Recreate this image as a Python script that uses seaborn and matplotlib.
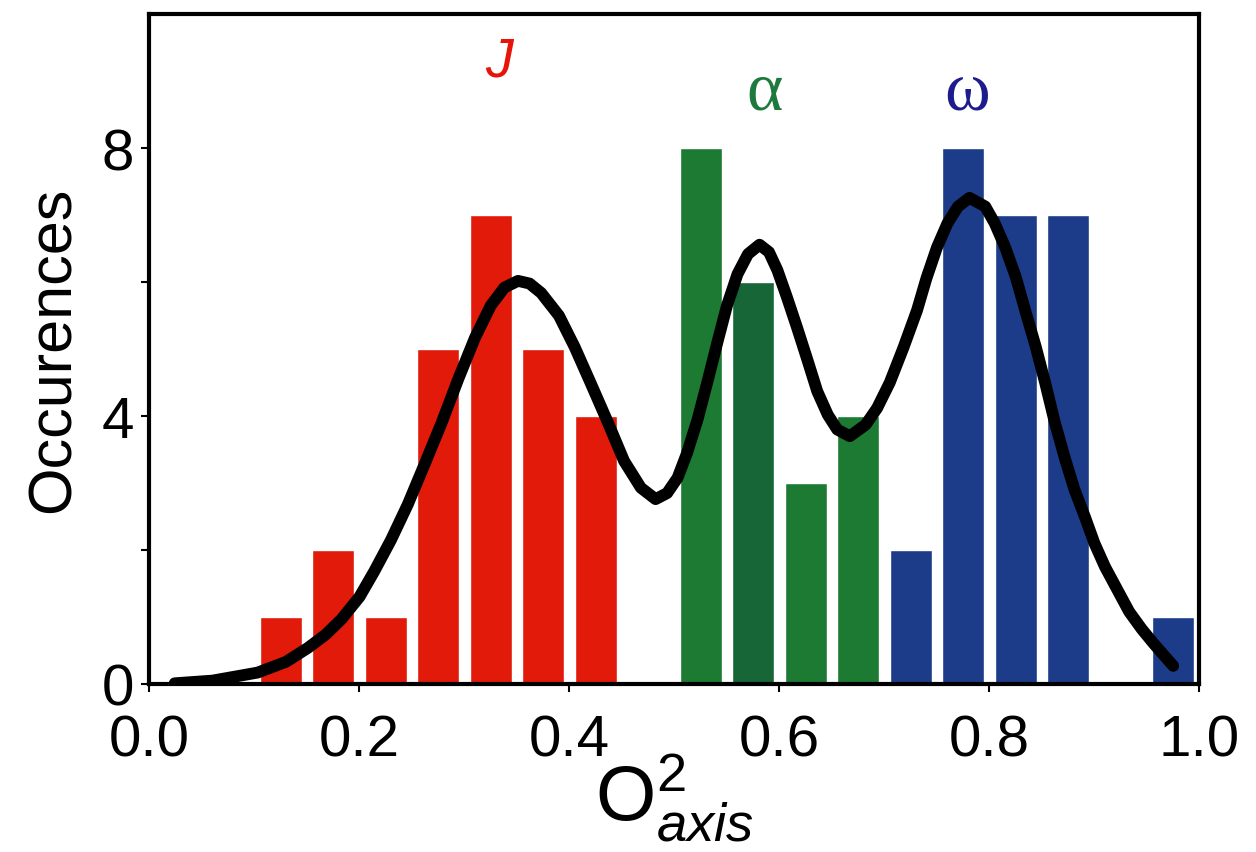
import matplotlib
matplotlib.use("Agg")
from matplotlib import pyplot as plt
import seaborn as sns

# histogram bins (centres) and counts
bin_centres = [0.125, 0.175, 0.225, 0.275, 0.325, 0.375, 0.425,
               0.525, 0.575, 0.625, 0.675,
               0.725, 0.775, 0.825, 0.875, 0.975]
counts = [1, 2, 1, 5, 7, 5, 4,
          8, 6, 3, 4,
          2, 8, 7, 7, 1]
bar_colors = ["#E21A0A"] * 7 + ["#1C7A32", "#166637", "#1C7A32", "#1C7A32"] + ["#1C3C8A"] * 5

# fitted curve
curve_x = [0.024, 0.060, 0.103, 0.130, 0.151, 0.168, 0.183, 0.200, 0.214, 0.230,
           0.246, 0.262, 0.278, 0.294, 0.310, 0.325, 0.338, 0.351, 0.362, 0.373,
           0.390, 0.405, 0.420, 0.437, 0.452, 0.468, 0.482, 0.493, 0.503, 0.512,
           0.522, 0.532, 0.541, 0.550, 0.560, 0.570, 0.581, 0.590, 0.598, 0.607,
           0.617, 0.627, 0.636, 0.646, 0.655, 0.667, 0.682, 0.693, 0.705, 0.718,
           0.731, 0.740, 0.750, 0.760, 0.770, 0.781, 0.796, 0.805, 0.815, 0.825,
           0.834, 0.844, 0.853, 0.862, 0.872, 0.881, 0.891, 0.900, 0.910, 0.922,
           0.933, 0.945, 0.956, 0.966, 0.975]
curve_y = [0.01, 0.05, 0.17, 0.33, 0.54, 0.74, 0.97, 1.30, 1.68, 2.15,
           2.68, 3.28, 3.89, 4.55, 5.17, 5.65, 5.92, 6.02, 5.98, 5.84,
           5.50, 5.03, 4.50, 3.89, 3.33, 2.93, 2.76, 2.85, 3.08, 3.45,
           3.95, 4.55, 5.11, 5.65, 6.12, 6.42, 6.56, 6.45, 6.18, 5.78,
           5.31, 4.82, 4.37, 4.02, 3.80, 3.70, 3.87, 4.12, 4.50, 5.02,
           5.58, 6.06, 6.52, 6.88, 7.13, 7.26, 7.13, 6.88, 6.52, 6.08,
           5.58, 5.04, 4.50, 3.92, 3.36, 2.90, 2.49, 2.10, 1.75, 1.40,
           1.08, 0.82, 0.61, 0.43, 0.27]

sns.set_style("white")
plt.rcParams["font.family"] = ["Liberation Sans", "DejaVu Sans"]
plt.rcParams["mathtext.fontset"] = "custom"
plt.rcParams["mathtext.it"] = "Liberation Sans:italic"
plt.rcParams["mathtext.rm"] = "Liberation Sans"

fig = plt.figure(figsize=(12.56, 8.53), dpi=100)
ax = fig.add_axes([0.119, 0.197, 0.836, 0.785])

sns.barplot(x=bin_centres, y=counts, hue=list(range(len(counts))),
            palette=bar_colors, native_scale=True, width=0.8,
            dodge=False, legend=False, saturation=1, ax=ax)
sns.lineplot(x=curve_x, y=curve_y, color="black", linewidth=8.5,
             solid_capstyle="round", solid_joinstyle="round", ax=ax, sort=False)

ax.set_xlim(0, 1.0)
ax.set_ylim(0, 10)
ax.set_xticks([0.0, 0.2, 0.4, 0.6, 0.8, 1.0])
ax.set_xticklabels(["0.0", "0.2", "0.4", "0.6", "0.8", "1.0"])
ax.set_yticks([0, 2, 4, 6, 8])
ax.set_yticklabels(["0", "", "4", "", "8"])
ax.tick_params(axis="both", direction="out", length=6, width=1.5,
               labelsize=42, colors="black", bottom=True, left=True)
ax.tick_params(axis="x", pad=15)
ax.tick_params(axis="y", pad=5)

for spine in ax.spines.values():
    spine.set_visible(True)
    spine.set_color("black")
    spine.set_linewidth(3)

ax.set_ylabel("Occurences", fontsize=44, color="black", labelpad=14)
ax.set_xlabel(r"$\mathrm{O}^{2}_{axis}$", fontsize=56, color="black", labelpad=-12)

ax.text(0.333, 9.3, "J", color="#E8140A", fontsize=40, style="italic",
        ha="center", va="center")
ax.text(0.586, 8.85, "α", color="#1E7A3C", fontsize=50,
        family=["Liberation Serif", "DejaVu Serif"], ha="center", va="center")
ax.text(0.779, 8.85, "ω", color="#1C1C8C", fontsize=50,
        family=["Liberation Serif", "DejaVu Serif"], ha="center", va="center")

fig.savefig("out.png", dpi=100)
